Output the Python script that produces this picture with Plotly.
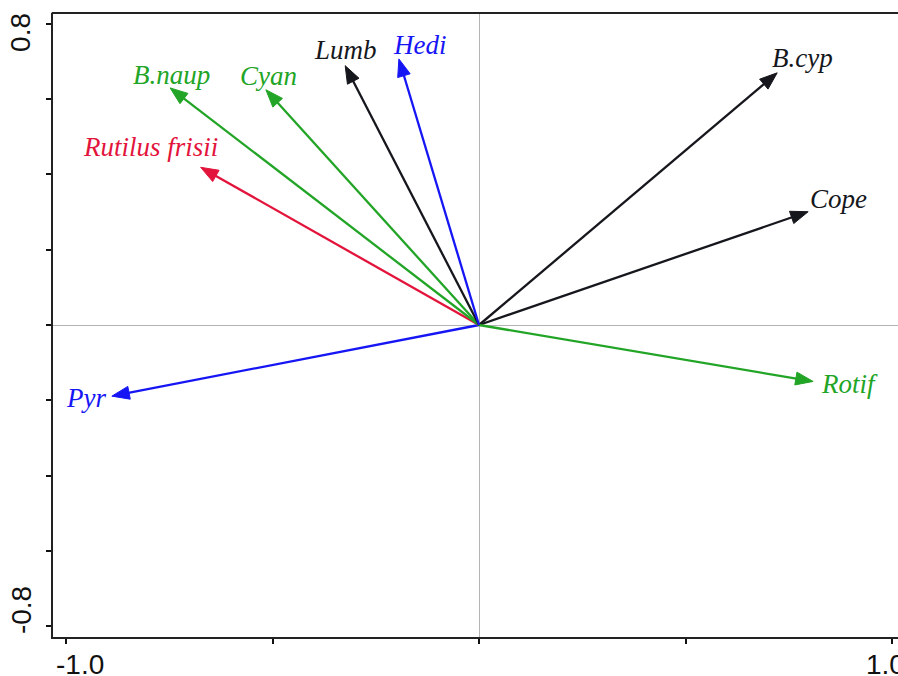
import math
import plotly.graph_objects as go

# ---------------- data ----------------
species = ["B.cyp", "Cope", "Rotif", "Pyr", "Rutilus frisii",
           "B.naup", "Cyan", "Lumb", "Hedi"]
axis1_scores = [0.722, 0.797, 0.809, -0.889, -0.674, -0.748, -0.516, -0.324, -0.194]
axis2_scores = [0.670, 0.301, -0.150, -0.189, 0.419, 0.630, 0.625, 0.689, 0.707]
species_group = ["black", "black", "green", "blue", "red",
                 "green", "green", "black", "blue"]

x_tick_values = [-1.0, -0.5, 0.0, 0.5, 1.0]
y_tick_values = [-0.8, -0.6, -0.4, -0.2, 0.0, 0.2, 0.4, 0.6, 0.8]
x_tick_labels = ["-1.0", "1.0"]
x_tick_label_values = [-1.0, 1.0]
y_tick_labels = ["0.8", "-0.8"]
y_tick_label_values = [0.8, -0.8]

# ---------------- styles ----------------
COLORS = {"black": "#15171c", "green": "#22a526", "blue": "#1616f5", "red": "#e3143c"}
W, H = 898, 676
M = dict(l=53, r=0, t=13, b=39)
XR = [-1.0315, 1.0145]
YR = [-0.829, 0.829]
HEAD_LEN, HEAD_HALF = 17.5, 6.5
# label offsets (pixels) from arrow tip
LABEL_SHIFT = [(25, 15), (30, 13), (36, -3), (-26, -2), (-50, 20),
               (1, 13), (3, 14), (0, 16), (21, 14)]

sx = (W - M["l"] - M["r"]) / (XR[1] - XR[0])
sy = (H - M["t"] - M["b"]) / (YR[1] - YR[0])

fig = go.Figure()

for name, x, y, g in zip(species, axis1_scores, axis2_scores, species_group):
    c = COLORS[g]
    px, py = x * sx, y * sy
    L = math.hypot(px, py)
    ux, uy = px / L, py / L
    bx, by = px - (HEAD_LEN - 2) * ux, py - (HEAD_LEN - 2) * uy
    hbx, hby = px - HEAD_LEN * ux, py - HEAD_LEN * uy
    nx, ny = -uy * HEAD_HALF, ux * HEAD_HALF
    # shaft
    fig.add_trace(go.Scatter(x=[0, bx / sx], y=[0, by / sy], mode="lines",
                             line=dict(color=c, width=2.3), hoverinfo="skip",
                             showlegend=False))
    # head
    hx = [x, (hbx + nx) / sx, (hbx - nx) / sx, x]
    hy = [y, (hby + ny) / sy, (hby - ny) / sy, y]
    fig.add_trace(go.Scatter(x=hx, y=hy, mode="lines", fill="toself",
                             fillcolor=c, line=dict(color=c, width=1),
                             hoverinfo="skip", showlegend=False))

annotations = []
for (name, x, y, g), (dx, dy) in zip(zip(species, axis1_scores, axis2_scores, species_group),
                                      LABEL_SHIFT):
    annotations.append(dict(x=x, y=y, xref="x", yref="y", text=name, showarrow=False,
                            xshift=dx, yshift=dy, xanchor="center", yanchor="middle",
                            font=dict(family="Liberation Serif, Times New Roman, serif",
                                      size=27, color=COLORS[g], style="italic")))

tick_font = dict(family="Liberation Sans, Arial, sans-serif", size=28, color="#111111")
x_label_shift = {-1.0: 14, 1.0: -7}
for lab, v in zip(x_tick_labels, x_tick_label_values):
    annotations.append(dict(x=v, y=0, xref="x", yref="paper", text=lab, showarrow=False,
                            xanchor="center", yanchor="middle", xshift=x_label_shift[v],
                            yshift=-27, font=tick_font))
y_label_shift = {0.8: -9, -0.8: 16}
for lab, v in zip(y_tick_labels, y_tick_label_values):
    annotations.append(dict(x=0, y=v, xref="paper", yref="y", text=lab, showarrow=False,
                            xanchor="center", yanchor="middle", xshift=-32,
                            yshift=y_label_shift[v], textangle=-90, font=tick_font))

fig.update_layout(
    width=W, height=H, margin=M,
    paper_bgcolor="white", plot_bgcolor="white",
    showlegend=False,
    annotations=annotations,
    shapes=[dict(type="line", xref="paper", yref="paper", x0=-0.0015, x1=1.01,
                 y0=1, y1=1, line=dict(color="#222", width=2))],
    xaxis=dict(range=XR, tickvals=x_tick_values, showticklabels=False,
               ticks="outside", ticklen=5, tickwidth=1.5, tickcolor="#111",
               showline=True, linewidth=2, linecolor="#222", mirror=False,
               showgrid=False, zeroline=True, zerolinecolor="#b4b4b4",
               zerolinewidth=1, fixedrange=True),
    yaxis=dict(range=YR, tickvals=y_tick_values, showticklabels=False,
               ticks="outside", ticklen=5, tickwidth=1.5, tickcolor="#111",
               showline=True, linewidth=2, linecolor="#222", mirror=False,
               showgrid=False, zeroline=True, zerolinecolor="#b4b4b4",
               zerolinewidth=1, fixedrange=True),
)

fig.write_html(
    "out.html",
    config={"displayModeBar": False},
    post_script="document.body.style.margin='0';document.body.style.overflow='hidden';",
)
